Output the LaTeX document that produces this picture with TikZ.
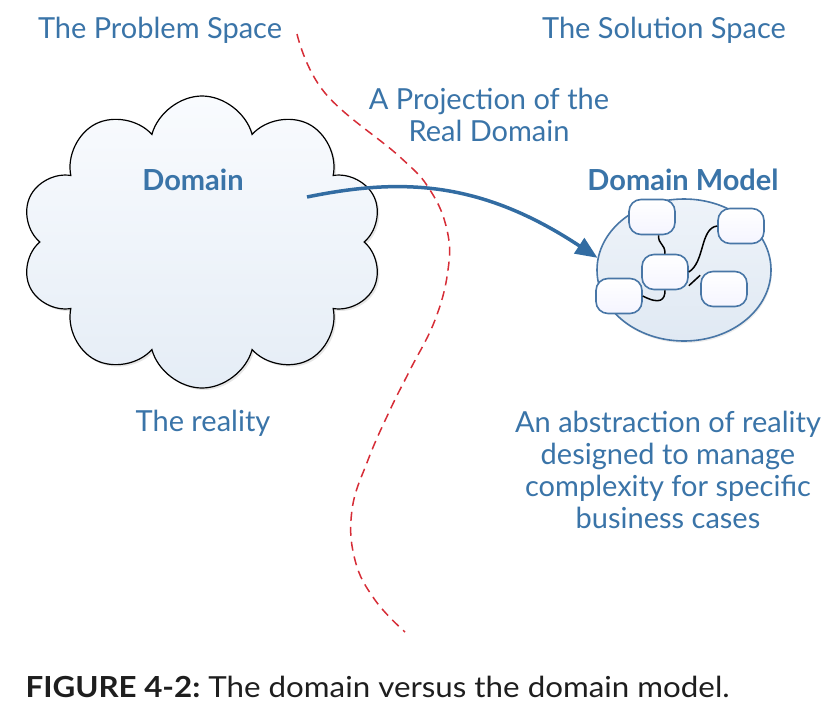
\documentclass[tikz,border=0pt]{standalone}
\usepackage{fontspec}
\setmainfont{Lato}
\newfontfamily\capfont[FakeStretch=1.08]{Lato}
\usetikzlibrary{shapes.symbols,shapes.geometric,arrows.meta,shadows}
\definecolor{txtblue}{RGB}{58,116,168}
\definecolor{arrowblue}{RGB}{50,108,162}
\definecolor{edgeblue}{RGB}{72,118,166}
\definecolor{splitred}{RGB}{214,45,55}
\definecolor{capgray}{RGB}{30,30,30}

\begin{document}
\begin{tikzpicture}[x=1pt, y=-1pt,
    label/.style={text=txtblue, font=\fontsize{29}{32}\selectfont, align=center},
    title/.style={text=txtblue, font=\fontsize{29}{32}\selectfont\bfseries},
    entity/.style={draw=edgeblue, line width=1.6pt, rounded corners=12pt, top color=white, bottom color=blue!4, minimum width=46pt, minimum height=35pt},
    link/.style={line width=1.5pt, black}]
    \useasboundingbox (0,0) rectangle (836,713);
    \node[cloud, cloud puffs=10, aspect=1.25, draw, line width=1.2pt, top color={rgb,255:red,249;green,251;blue,254}, bottom color={rgb,255:red,229;green,237;blue,246}, minimum width=362pt, minimum height=292pt, drop shadow={opacity=0.2, shadow xshift=2pt, shadow yshift=-2pt}] (domain) at (202,242) {};
    \node[ellipse, draw=edgeblue, line width=1.6pt, top color={rgb,255:red,238;green,243;blue,249}, bottom color={rgb,255:red,224;green,233;blue,243}, minimum width=174pt, minimum height=142pt, drop shadow={opacity=0.15, shadow xshift=1pt, shadow yshift=-2pt}] (model) at (684,270) {};

    \node[label] (problem) at (160,30) {The Problem Space};
    \node[label] (solution) at (664,30) {The Solution Space};
    \node[label] (projection) at (489,115) {A Projection of the\\Real Domain};
    \node[title] (domaintitle) at (193,180) {Domain};
    \node[title] (modeltitle) at (683,180) {Domain Model};
    \node[label] (reality) at (203,423) {The reality};
    \node[label] (abstraction) at (668,470) {An abstraction of reality\\designed to manage\\complexity for specific\\business cases};

    \node[entity] (e1) at (652,217) {};
    \node[entity] (e2) at (741,226) {};
    \node[entity] (e3) at (665,272) {};
    \node[entity] (e4) at (619,296) {};
    \node[entity] (e5) at (724,289) {};
    \draw[link] (e1.290) .. controls (658,245) and (665,243) .. (e3.north);
    \draw[link] (e3.east) .. controls (705,262) and (700,228) .. (e2.west);
    \draw[link] (e3.330) -- (e5.150);
    \draw[link] (e4.east) .. controls (660,305) and (665,300) .. (e3.south);

    \coordinate (src) at (307,197);
    \draw[arrowblue, line width=3.5pt, -{Triangle[length=22pt,width=18pt]}] (src) .. controls (400,178) and (480,180) .. (model.172);

    \draw[splitred, dash pattern=on 9pt off 6pt, line width=1.5pt] plot[smooth, tension=0.7] coordinates {(297,34) (325,93) (400,157) (430,190) (447,230) (448,270) (435,320) (410,370) (390,410) (368,460) (352,510) (355,560) (375,600) (405,632)};

    \node[anchor=base west, text=capgray, font=\capfont\fontsize{29}{32}\selectfont] (caption) at (22,697) {\textbf{FIGURE 4-2:}\ The domain versus the domain model.};
\end{tikzpicture}
\end{document}
